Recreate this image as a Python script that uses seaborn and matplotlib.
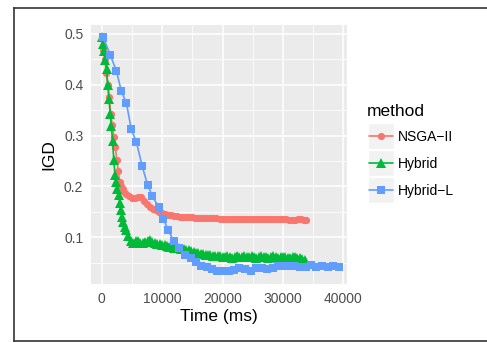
import numpy as np
import pandas as pd
import matplotlib
matplotlib.use("Agg")
import matplotlib.pyplot as plt
import seaborn as sns
from matplotlib.patches import Rectangle
from matplotlib.lines import Line2D

# ---------------- data ----------------
methods = ["NSGA\u2212II", "Hybrid", "Hybrid\u2212L"]
colors = ["#F8766D", "#00BA38", "#619CFF"]
marker_shapes = ["o", "^", "s"]

red_t = list(range(0, 4001, 250)) + list(range(4500, 33501, 500)) + [33800]
red_v = [0.494, 0.468, 0.451, 0.422, 0.399, 0.376, 0.343, 0.320, 0.298, 0.278,
         0.252, 0.230, 0.209, 0.200, 0.195, 0.190, 0.186,
         0.181, 0.177, 0.178, 0.180, 0.179, 0.172, 0.166, 0.160, 0.156, 0.153,
         0.150, 0.148, 0.146, 0.145, 0.144, 0.143, 0.142, 0.141, 0.141, 0.140,
         0.140, 0.140, 0.139, 0.139, 0.139, 0.138, 0.138, 0.138, 0.138, 0.138,
         0.137, 0.137, 0.137, 0.136, 0.137, 0.137, 0.137, 0.137, 0.137, 0.137,
         0.137, 0.137, 0.137, 0.137, 0.137, 0.137, 0.137, 0.137, 0.137, 0.136,
         0.136, 0.136, 0.136, 0.135, 0.134, 0.135, 0.136, 0.136, 0.135,
         0.134]

green_t = list(range(0, 4001, 200)) + list(range(4400, 33601, 400))
green_v = [0.494, 0.480, 0.466, 0.448, 0.430, 0.400, 0.372, 0.343, 0.318, 0.290,
           0.252, 0.223, 0.209, 0.196, 0.183, 0.167, 0.153, 0.141, 0.131, 0.121,
           0.114,
           0.102, 0.093, 0.090, 0.094, 0.093, 0.090, 0.089, 0.091, 0.094, 0.095,
           0.091, 0.089, 0.088, 0.087, 0.086, 0.085, 0.083, 0.081, 0.081, 0.080,
           0.080, 0.079, 0.078, 0.077, 0.075, 0.075, 0.073, 0.072, 0.070, 0.069,
           0.068, 0.067, 0.066, 0.066, 0.065, 0.064, 0.064, 0.063, 0.063, 0.062,
           0.061, 0.063, 0.062, 0.060, 0.062, 0.063, 0.061, 0.062, 0.064, 0.062,
           0.061, 0.063, 0.062, 0.060, 0.061, 0.063, 0.062, 0.061, 0.060, 0.062,
           0.063, 0.061, 0.060, 0.061, 0.062, 0.061, 0.060, 0.059, 0.061, 0.062,
           0.060, 0.059, 0.058, 0.056]

blue_t = [200, 1450, 2450, 3250, 4100, 4900, 5750, 6700, 7600, 8400,
          9450, 10200, 11050, 11900, 12850, 13800, 14700, 15650, 16500, 17350,
          18200, 19150, 20150, 21050, 21900, 22800, 23750, 24650, 25550, 26450,
          27350, 28300, 29200, 30100, 31000, 31900, 32850, 33750, 34650, 35550,
          36450, 37400, 38300, 39200]
blue_v = [0.494, 0.457, 0.426, 0.387, 0.363, 0.312, 0.287, 0.240, 0.203, 0.181,
          0.159, 0.136, 0.114, 0.093, 0.080, 0.066, 0.059, 0.052, 0.045, 0.042,
          0.038, 0.035, 0.034, 0.035, 0.037, 0.040, 0.038, 0.034, 0.040, 0.041,
          0.038, 0.041, 0.045, 0.044, 0.044, 0.045, 0.042, 0.043, 0.046, 0.042,
          0.045, 0.043, 0.044, 0.043]

x_ticks = [0, 10000, 20000, 30000, 40000]
x_ticklabels = ["0", "10000", "20000", "30000", "40000"]
y_ticks = [0.1, 0.2, 0.3, 0.4, 0.5]
y_ticklabels = ["0.1", "0.2", "0.3", "0.4", "0.5"]

assert len(red_t) == len(red_v)
assert len(green_t) == len(green_v)
assert len(blue_t) == len(blue_v)

df = pd.concat([
    pd.DataFrame({"time": red_t, "IGD": red_v, "method": methods[0]}),
    pd.DataFrame({"time": green_t, "IGD": green_v, "method": methods[1]}),
    pd.DataFrame({"time": blue_t, "IGD": blue_v, "method": methods[2]}),
], ignore_index=True)

# ---------------- figure ----------------
sns.set_style("white")
plt.rcParams["font.family"] = ["Liberation Sans", "DejaVu Sans"]

W, H = 487, 343
fig = plt.figure(figsize=(W / 100, H / 100), dpi=100)
fig.patch.set_facecolor("white")
fig.patch.set_edgecolor("none")
fig.patch.set_linewidth(0)

# outer border: left, top and bottom edges (the right side runs off the image)
bx0, bx1, by_top, by_bot = 13.5, 490.0, 7.5, 340.5
fig.add_artist(Line2D([bx1 / W, bx0 / W], [1 - by_top / H, 1 - by_top / H],
                      transform=fig.transFigure, color="#333333", lw=1.2,
                      solid_capstyle="projecting"))
fig.add_artist(Line2D([bx0 / W, bx0 / W], [1 - by_top / H, 1 - by_bot / H],
                      transform=fig.transFigure, color="#333333", lw=1.2,
                      solid_capstyle="projecting"))
fig.add_artist(Line2D([bx0 / W, bx1 / W], [1 - by_bot / H, 1 - by_bot / H],
                      transform=fig.transFigure, color="#333333", lw=1.2,
                      solid_capstyle="projecting"))

px_l, px_r, px_t, px_b = 91, 347, 25, 284
ax = fig.add_axes([px_l / W, 1 - px_b / H, (px_r - px_l) / W, (px_b - px_t) / H])

sns.lineplot(data=df, x="time", y="IGD", hue="method", style="method",
             hue_order=methods, style_order=methods,
             palette=dict(zip(methods, colors)),
             markers=dict(zip(methods, marker_shapes)), dashes=False,
             estimator=None, sort=False, legend=False, ax=ax,
             linewidth=1.2, markeredgewidth=0)

msizes = [5.2, 6.6, 5.6]
for line, ms in zip(ax.lines, msizes):
    line.set_markersize(ms)

ax.set_xlim(-1770, 40600)
ax.set_ylim(0.0088, 0.5167)
ax.set_facecolor("#EBEBEB")
for s in ax.spines.values():
    s.set_visible(False)

ax.set_xticks(x_ticks)
ax.set_xticklabels(x_ticklabels)
ax.set_yticks(y_ticks)
ax.set_yticklabels(y_ticklabels)
ax.set_xticks([5000, 15000, 25000, 35000], minor=True)
ax.set_yticks([0.05, 0.15, 0.25, 0.35, 0.45], minor=True)
ax.grid(which="major", color="white", lw=1.1)
ax.grid(which="minor", color="white", lw=0.55)
ax.set_axisbelow(True)
ax.tick_params(which="major", length=3, width=0.8, color="#333333",
               labelcolor="#4D4D4D", labelsize=10, pad=2.5)
ax.tick_params(which="minor", length=0)
ax.set_xlabel("")
ax.set_ylabel("")

fig.text(219 / W, 1 - 316 / H, "Time (ms)", ha="center", va="center",
         fontsize=12.5, color="black")
fig.text(49 / W, 1 - 154.5 / H, "IGD", ha="center", va="center",
         rotation=90, fontsize=12.5, color="black")

# ---------------- legend (manual, ggplot-like) ----------------
fig.text(367 / W, 1 - 116 / H, "method", ha="left", va="baseline",
         fontsize=12.5, color="black")
key_l, key_r = 368, 393.5
row_c = [136, 163, 189.5]
key_h = 26
for m, c, mk, ms, yc in zip(methods, colors, marker_shapes, msizes, row_c):
    fig.add_artist(Rectangle((key_l / W, 1 - (yc + key_h / 2) / H),
                             (key_r - key_l) / W, key_h / H,
                             transform=fig.transFigure, fc="#F2F2F2",
                             ec="white", lw=1.0))
    fig.add_artist(Line2D([(key_l + 1) / W, (key_r - 1) / W],
                          [1 - yc / H, 1 - yc / H],
                          transform=fig.transFigure, color=c, lw=1.2))
    fig.add_artist(Line2D([(key_l + key_r) / 2 / W], [1 - yc / H],
                          transform=fig.transFigure, color=c, marker=mk,
                          ms=ms, mew=0, lw=0))
    fig.text(398 / W, 1 - (yc + 5) / H, m, ha="left", va="baseline",
             fontsize=10, color="black")

fig.savefig("out.png", dpi=100)
